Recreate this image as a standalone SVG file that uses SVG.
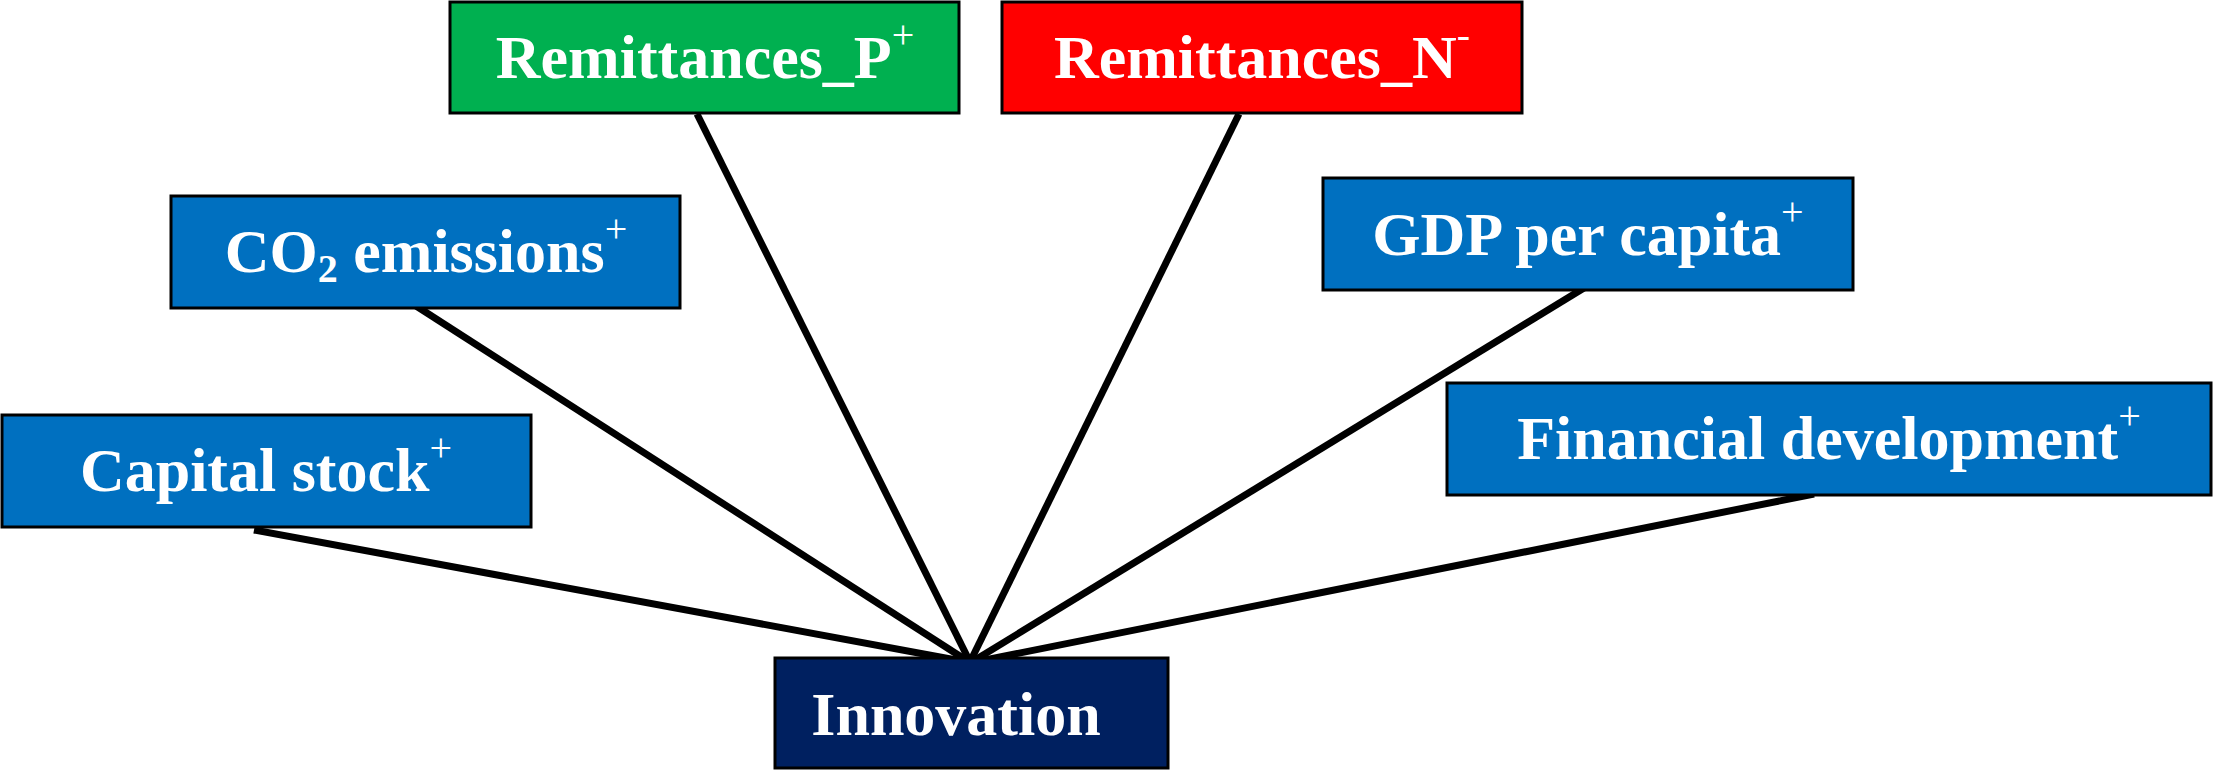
<svg xmlns="http://www.w3.org/2000/svg" width="2213" height="770" viewBox="0 0 2213 770">
<style>
.box{stroke:#000;stroke-width:3}
.blue{fill:#0070C0}
.green{fill:#00B050}
.red{fill:#FF0000}
.navy{fill:#002060}
.lbl{font-family:"Liberation Serif","Times New Roman",serif;font-weight:bold;font-size:62px;fill:#fff;text-anchor:middle}
.sup{font-weight:normal;font-size:40px}
.sub{font-size:40px}
.conn{stroke:#000;stroke-width:7;stroke-linecap:butt;fill:none}
</style>
<rect width="2213" height="770" fill="#fff"/>
<g id="connectors">
<line class="conn" x1="254" y1="530" x2="967" y2="662"/>
<line class="conn" x1="413" y1="304" x2="966" y2="660"/>
<line class="conn" x1="697" y1="114" x2="969" y2="660"/>
<line class="conn" x1="1239" y1="114" x2="972" y2="658"/>
<line class="conn" x1="1584" y1="288" x2="975" y2="660"/>
<line class="conn" x1="1814" y1="494" x2="975" y2="662"/>
</g>
<g id="remittances_p">
<rect class="box green" x="450" y="2" width="509" height="111"/>
<text class="lbl" x="705" y="78">Remittances_P<tspan class="sup" baseline-shift="30">+</tspan></text>
</g>
<g id="remittances_n">
<rect class="box red" x="1002" y="2" width="520" height="111"/>
<text class="lbl" x="1262" y="78">Remittances_N<tspan class="sup" baseline-shift="30">-</tspan></text>
</g>
<g id="co2">
<rect class="box blue" x="171" y="196" width="509" height="112"/>
<text class="lbl" x="426" y="272">CO<tspan class="sub" baseline-shift="-10">2</tspan><tspan> emissions</tspan><tspan class="sup" baseline-shift="30">+</tspan></text>
</g>
<g id="gdp">
<rect class="box blue" x="1323" y="178" width="530" height="112"/>
<text class="lbl" x="1588" y="255">GDP per capita<tspan class="sup" baseline-shift="30">+</tspan></text>
</g>
<g id="capital">
<rect class="box blue" x="2" y="415" width="529" height="112"/>
<text class="lbl" x="266" y="491">Capital stock<tspan class="sup" baseline-shift="30">+</tspan></text>
</g>
<g id="financial">
<rect class="box blue" x="1447" y="383" width="764" height="112"/>
<text class="lbl" x="1829" y="459">Financial development<tspan class="sup" baseline-shift="30">+</tspan></text>
</g>
<g id="innovation">
<rect class="box navy" x="775" y="658" width="393" height="110"/>
<text class="lbl" x="956" y="735">Innovation</text>
</g>
</svg>
